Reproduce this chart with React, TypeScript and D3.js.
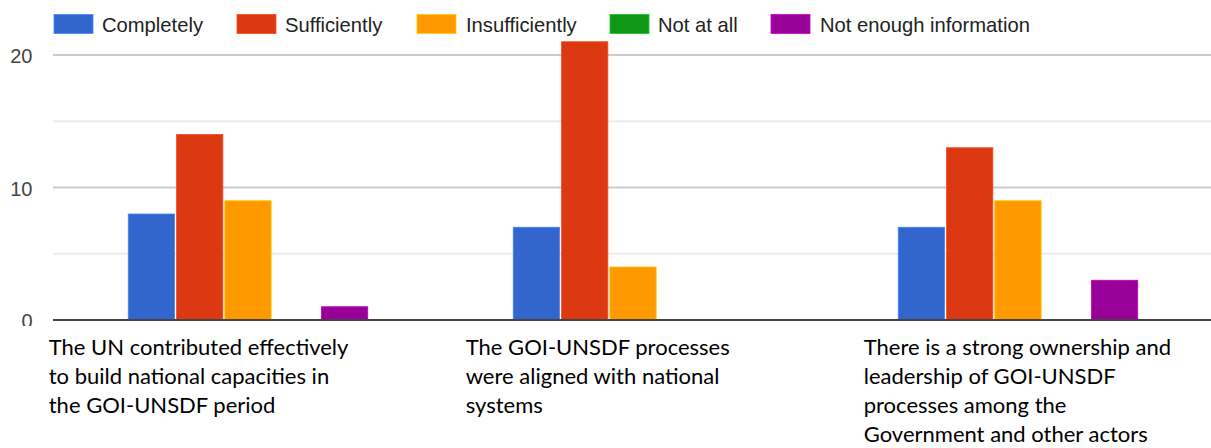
import React from "react";
import * as d3 from "d3";

// Survey statements (x categories), one line per array entry
const categories: string[][] = [
  ["The UN contributed effectively", "to build national capacities in", "the GOI-UNSDF period"],
  ["The GOI-UNSDF processes", "were aligned with national", "systems"],
  ["There is a strong ownership and", "leadership of GOI-UNSDF", "processes among the", "Government and other actors"],
];

const seriesNames = ["Completely", "Sufficiently", "Insufficiently", "Not at all", "Not enough information"];
const seriesColors = ["#3366cc", "#dc3912", "#ff9900", "#109618", "#990099"];

// Counts per statement, in the order of seriesNames
const completely = [8, 7, 7];
const sufficiently = [14, 21, 13];
const insufficiently = [9, 4, 9];
const notAtAll = [0, 0, 0];
const notEnoughInfo = [1, 0, 3];

const yTicks = [0, 10, 20];
const yGrid = [0, 5, 10, 15, 20];

const W = 1211;
const H = 448;

export default function App() {
  const series = [completely, sufficiently, insufficiently, notAtAll, notEnoughInfo];

  const x0 = d3
    .scaleBand<number>()
    .domain(categories.map((_, i) => i))
    .range([56, 1211])
    .paddingInner(0.3727)
    .paddingOuter(0.3727 / 2);
  const x1 = d3
    .scaleBand<number>()
    .domain(seriesNames.map((_, i) => i))
    .range([0, x0.bandwidth()])
    .padding(0);
  const y = d3.scaleLinear().domain([0, 20]).range([320, 55]);

  const plotLeft = 53;
  const plotRight = W;

  // left edges of the wrapped statement labels relative to each group's start
  const labelShift = [-79, -47, -34];

  const legendItems = [
    { swatch: 54, text: 102 },
    { swatch: 237, text: 285 },
    { swatch: 417, text: 466 },
    { swatch: 610, text: 658 },
    { swatch: 771, text: 820 },
  ];

  const axisFont = "'Liberation Sans', Arial, sans-serif";
  const labelFont = "Lato, 'Noto Sans', sans-serif";

  return (
    <svg
      width={W}
      height={H}
      viewBox={`0 0 ${W} ${H}`}
      style={{ position: "absolute", left: 0, top: 0, background: "#fff" }}
    >
      <defs>
        <clipPath id="zeroClip">
          <rect x={0} y={0} width={50} height={326} />
        </clipPath>
      </defs>
      <rect x={0} y={0} width={W} height={H} fill="#fff" />

      {/* legend */}
      {seriesNames.map((name, i) => (
        <g key={name}>
          <rect
            x={legendItems[i].swatch}
            y={14.5}
            width={39}
            height={19}
            fill={seriesColors[i]}
            stroke={d3.color(seriesColors[i])!.brighter(0.8).toString()}
            strokeWidth={0.8}
          />
          <text
            x={legendItems[i].text}
            y={31.5}
            fontFamily={axisFont}
            fontSize={20.2}
            fill="#222"
          >
            {name}
          </text>
        </g>
      ))}

      {/* gridlines */}
      {yGrid.map((v) =>
        v === 0 ? null : (
          <line
            key={v}
            x1={plotLeft}
            x2={plotRight}
            y1={y(v)}
            y2={y(v)}
            stroke={v % 10 === 0 ? "#cccccc" : "#ebebeb"}
            strokeWidth={2}
          />
        )
      )}

      {/* y tick labels */}
      {yTicks.map((v) => (
        <text
          key={v}
          x={32.5}
          y={y(v) + 8}
          textAnchor="end"
          fontFamily={axisFont}
          fontSize={20}
          fill="#444"
          clipPath={v === 0 ? "url(#zeroClip)" : undefined}
        >
          {v}
        </text>
      ))}

      {/* bars */}
      {categories.map((_, ci) => (
        <g key={ci} transform={`translate(${x0(ci)},0)`}>
          {series.map((vals, si) =>
            vals[ci] > 0 ? (
              <rect
                key={si}
                x={x1(si)! + 0.5}
                y={y(vals[ci])}
                width={x1.bandwidth() - 2}
                height={y(0) - y(vals[ci])}
                fill={seriesColors[si]}
                stroke={d3.color(seriesColors[si])!.brighter(0.7).toString()}
                strokeWidth={0.8}
              />
            ) : null
          )}
        </g>
      ))}

      {/* baseline */}
      <line x1={plotLeft} x2={plotRight} y1={y(0)} y2={y(0)} stroke="#444" strokeWidth={2} />

      {/* category labels */}
      {categories.map((lines, ci) => (
        <text
          key={ci}
          x={x0(ci)! + labelShift[ci]}
          y={355}
          fontFamily={labelFont}
          fontSize={22}
          fill="#000"
        >
          {lines.map((ln, li) => (
            <tspan key={li} x={x0(ci)! + labelShift[ci]} y={355 + li * 29}>
              {ln}
            </tspan>
          ))}
        </text>
      ))}
    </svg>
  );
}
